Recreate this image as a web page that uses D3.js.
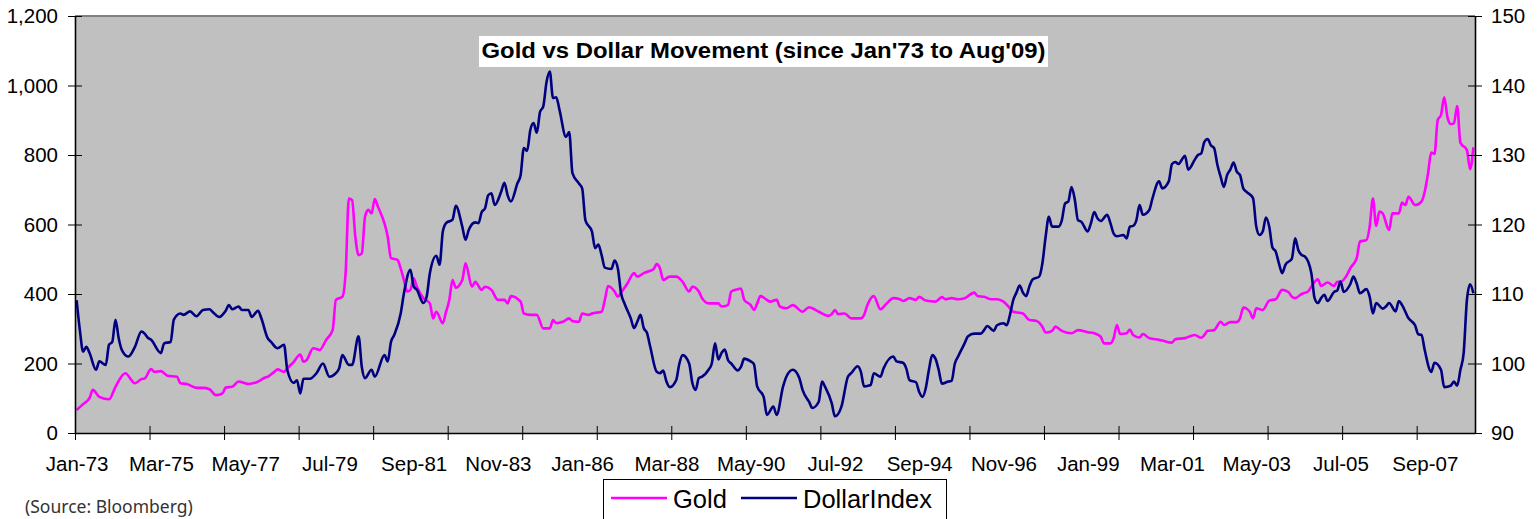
<!DOCTYPE html>
<html>
<head>
<meta charset="utf-8">
<script src="https://cdn.jsdelivr.net/npm/d3@7"></script>
<style>
  body { margin: 0; background: #fff; }
  svg { display: block; }
  .axis text { font-family: "Liberation Sans", Arial, sans-serif; font-size: 20.5px; fill: #000; }
  .axis path, .axis line { stroke: #000; }
</style>
</head>
<body>
<div id="chart"></div>
<script>
// Monthly series since Jan-73, stored as [monthIndex, value]
var gold = [[0,66],[2,83],[4,101],[5,124],[7,104],[10,97],[12,133],[15,172],[18,143],[20,155],[21,157],[23,184],[24,176],[26,178],[28,165],[31,162],[32,143],[34,141],[37,130],[39,130],[41,126],[43,109],[45,114],[46,131],[48,133],[50,148],[53,141],[56,148],[58,159],[59,162],[61,176],[62,183],[64,176],[65,186],[67,205],[69,226],[70,205],[71,210],[73,244],[75,239],[77,268],[79,296],[80,383],[82,392],[83,460],[84,675],[85,670],[86,565],[87,512],[88,517],[89,623],[90,642],[91,632],[92,673],[93,651],[95,603],[96,565],[97,503],[99,498],[100,474],[101,440],[102,407],[103,412],[104,445],[105,421],[107,388],[109,373],[110,330],[111,349],[113,316],[114,349],[115,383],[116,440],[117,418],[119,440],[120,488],[122,421],[123,435],[125,412],[126,421],[128,412],[130,383],[132,383],[133,373],[134,394],[137,378],[138,344],[140,340],[142,340],[144,301],[146,301],[147,325],[148,316],[150,320],[152,330],[153,322],[155,320],[156,344],[158,340],[159,344],[162,349],[163,383],[164,423],[166,407],[167,392],[168,404],[170,431],[172,460],[173,450],[175,460],[177,467],[178,471],[179,486],[180,474],[181,440],[183,450],[185,450],[187,435],[189,407],[190,421],[192,407],[193,388],[195,373],[198,373],[199,364],[201,368],[202,407],[204,414],[205,416],[206,383],[208,368],[209,354],[210,373],[211,394],[213,383],[214,378],[216,383],[217,364],[219,359],[221,368],[224,349],[226,362],[227,359],[229,349],[232,337],[233,342],[234,354],[235,342],[237,344],[239,330],[242,330],[243,340],[244,368],[246,394],[248,356],[250,373],[252,388],[254,385],[255,380],[257,388],[259,383],[260,392],[262,381],[265,378],[267,391],[268,385],[270,388],[272,385],[274,388],[277,404],[278,394],[280,392],[282,385],[284,385],[286,378],[288,359],[289,349],[291,346],[292,344],[294,325],[296,323],[298,306],[299,289],[301,294],[302,306],[304,294],[307,287],[309,296],[312,290],[314,287],[316,277],[317,258],[319,258],[320,273],[321,311],[322,285],[324,287],[325,298],[326,282],[328,275],[329,285],[331,273],[334,268],[335,266],[338,260],[339,270],[342,273],[345,282],[347,274],[348,282],[349,294],[351,296],[353,320],[354,311],[356,319],[358,319],[359,330],[360,361],[362,349],[363,330],[364,359],[366,354],[368,381],[370,385],[372,412],[374,405],[375,392],[376,388],[378,400],[380,407],[381,421],[383,442],[384,423],[386,433],[388,423],[389,435],[390,435],[392,455],[393,474],[395,503],[396,551],[398,555],[399,594],[400,675],[401,596],[402,637],[403,632],[405,584],[406,632],[408,632],[409,663],[410,656],[411,680],[413,656],[415,666],[416,695],[417,747],[418,807],[419,803],[420,901],[421,915],[422,966],[423,909],[424,889],[425,891],[426,941],[427,835],[429,814],[430,759],[431,822]];

var dollarIndex = [[0,109.1],[1,104.8],[2,101.7],[3,102.4],[4,101.5],[6,99.1],[7,100.3],[9,99.8],[10,102.7],[11,103.1],[12,106.3],[13,103.6],[14,101.9],[16,101.0],[18,102.4],[20,104.6],[21,104.3],[22,103.7],[23,103.4],[26,101.5],[27,102.9],[29,103.1],[30,106.3],[32,107.2],[33,107.0],[35,107.5],[37,106.8],[39,107.7],[41,107.8],[42,107.4],[44,106.7],[46,107.6],[47,108.4],[48,107.8],[50,108.2],[51,107.7],[53,107.7],[54,106.7],[56,107.6],[57,106.5],[59,103.6],[60,103.1],[62,102.2],[64,102.7],[65,99.1],[67,97.2],[68,97.6],[69,95.7],[70,97.8],[72,97.8],[74,98.6],[76,100.0],[78,98.1],[80,98.6],[81,99.3],[82,101.2],[84,99.8],[85,99.8],[87,103.9],[88,99.5],[89,97.9],[91,99.1],[92,98.1],[95,101.2],[96,100.3],[97,103.1],[98,104.1],[100,107.2],[101,110.1],[103,113.5],[104,111.1],[105,110.6],[107,108.7],[108,109.6],[109,113.0],[111,115.5],[112,114.2],[113,119.0],[114,120.2],[116,120.7],[117,122.7],[119,119.7],[120,117.8],[121,119.2],[123,120.3],[124,120.2],[125,121.8],[126,122.3],[127,124.2],[128,124.5],[129,122.8],[131,124.7],[132,126.0],[133,124.2],[134,123.3],[136,125.9],[137,127.1],[138,131.0],[139,130.6],[140,133.6],[141,134.6],[142,133.2],[143,136.2],[144,137.0],[145,140.5],[146,142.0],[147,138.2],[148,138.3],[149,136.5],[151,132.6],[152,133.3],[153,127.4],[155,125.9],[156,125.2],[157,120.6],[159,119.0],[160,116.6],[161,117.1],[162,115.6],[163,113.8],[165,113.6],[166,114.8],[167,113.7],[168,110.1],[169,108.7],[171,106.5],[172,105.1],[173,106.0],[174,107.0],[175,105.1],[176,104.4],[177,102.4],[179,98.8],[180,98.6],[181,99.0],[182,97.4],[183,96.6],[185,97.6],[186,100.0],[187,101.2],[189,100.0],[190,97.2],[191,96.2],[192,97.9],[193,98.1],[195,99.1],[196,100.0],[197,102.9],[198,100.6],[199,101.5],[200,102.0],[201,100.5],[202,100.0],[204,99.0],[205,99.5],[206,100.7],[208,100.3],[209,99.9],[210,96.7],[212,95.2],[213,92.6],[215,93.8],[216,92.6],[218,96.7],[219,98.1],[221,99.1],[223,97.9],[224,96.2],[226,94.5],[227,93.6],[229,94.5],[230,97.4],[231,96.6],[233,94.3],[234,92.4],[236,93.8],[238,98.1],[239,98.6],[241,99.6],[242,98.8],[243,96.7],[245,96.9],[246,98.6],[248,98.1],[249,99.3],[252,101.0],[253,100.3],[255,100.1],[256,99.3],[257,97.6],[259,97.3],[260,95.9],[261,95.2],[262,96.4],[263,99.1],[264,101.2],[265,100.7],[266,99.1],[267,97.1],[269,97.4],[270,97.5],[271,100.0],[272,101.0],[274,102.9],[275,103.9],[277,104.3],[279,104.3],[280,104.8],[281,105.4],[283,104.7],[284,105.5],[286,105.8],[287,105.5],[288,107.0],[289,109.1],[290,110.2],[291,111.2],[292,110.2],[293,109.7],[294,111.1],[295,112.1],[297,112.5],[298,114.4],[299,118.2],[300,121.1],[301,119.7],[303,119.7],[304,120.6],[305,123.0],[306,123.3],[307,125.4],[308,123.6],[309,120.6],[310,120.4],[312,119.0],[313,120.2],[314,121.8],[315,120.9],[316,120.5],[318,121.4],[319,120.2],[320,118.7],[321,118.3],[323,118.5],[324,118.0],[325,119.7],[326,119.8],[327,120.6],[328,122.8],[329,121.4],[331,122.1],[332,123.8],[334,126.2],[335,125.2],[337,126.2],[338,128.7],[339,129.0],[340,128.7],[341,129.3],[342,129.9],[343,127.9],[345,129.3],[346,130.0],[347,130.2],[348,131.9],[349,132.3],[350,131.4],[351,131.0],[352,128.6],[353,126.9],[354,125.4],[355,127.1],[356,127.9],[357,128.9],[358,127.6],[359,127.1],[360,125.2],[361,124.7],[363,123.8],[364,119.7],[365,118.5],[366,119.0],[367,121.0],[368,119.7],[369,116.7],[370,116.1],[371,114.4],[372,113.0],[373,114.2],[375,115.1],[376,118.0],[377,116.3],[378,115.6],[379,115.4],[381,113.0],[382,109.4],[383,108.7],[384,109.4],[385,109.9],[386,109.0],[388,110.3],[389,110.5],[390,111.8],[391,110.3],[393,111.4],[394,112.5],[395,111.5],[396,110.1],[398,110.7],[399,109.6],[400,107.2],[401,108.7],[403,107.9],[404,108.2],[405,108.7],[407,107.5],[408,109.0],[409,108.4],[411,106.5],[413,105.5],[414,104.2],[415,104.1],[416,101.9],[418,98.8],[419,100.1],[421,99.1],[422,96.6],[424,96.8],[425,97.4],[426,96.8],[427,99.1],[428,101.5],[429,109.1],[430,111.4],[431,110.1]];

// category axis labels (one every 26 months) and tick marks (every 23 months)
var xLabels = ["Jan-73","Mar-75","May-77","Jul-79","Sep-81","Nov-83","Jan-86","Mar-88","May-90","Jul-92","Sep-94","Nov-96","Jan-99","Mar-01","May-03","Jul-05","Sep-07"];
var nMonths = 432;
var labelEvery = 26;
var tickEvery = 23;
var leftTicks = [0, 200, 400, 600, 800, 1000, 1200];
var rightTicks = [90, 100, 110, 120, 130, 140, 150];

var svgWidth = 1540;
var svgHeight = 519;
var plot = { left: 75, right: 1475, top: 16, bottom: 433 };

var svg = d3.select("#chart")
  .append("svg")
  .attr("width", svgWidth)
  .attr("height", svgHeight);

var xScale = d3.scaleLinear().domain([0, nMonths]).range([plot.left, plot.right]);
var yLeft = d3.scaleLinear().domain([0, 1200]).range([plot.bottom, plot.top]);
var yRight = d3.scaleLinear().domain([90, 150]).range([plot.bottom, plot.top]);

// plot background
svg.append("rect")
  .attr("x", plot.left)
  .attr("y", plot.top)
  .attr("width", plot.right - plot.left)
  .attr("height", plot.bottom - plot.top)
  .attr("fill", "#c0c0c0");

svg.append("line")
  .attr("x1", plot.left).attr("x2", plot.right)
  .attr("y1", plot.top).attr("y2", plot.top)
  .attr("stroke", "#808080")
  .attr("stroke-width", 2);

// lines
var goldLine = d3.line()
  .x(d => xScale(d[0] + 0.5))
  .y(d => yLeft(d[1]))
  .curve(d3.curveMonotoneX);

var dollarLine = d3.line()
  .x(d => xScale(d[0] + 0.5))
  .y(d => yRight(d[1]))
  .curve(d3.curveMonotoneX);

svg.append("path")
  .datum(gold)
  .attr("d", goldLine)
  .attr("fill", "none")
  .attr("stroke", "#ff00ff")
  .attr("stroke-width", 2.6)
  .attr("stroke-linejoin", "round");

svg.append("path")
  .datum(dollarIndex)
  .attr("d", dollarLine)
  .attr("fill", "none")
  .attr("stroke", "#000080")
  .attr("stroke-width", 2.6)
  .attr("stroke-linejoin", "round");

// axes (Excel style crossing tick marks)
var leftAxis = svg.append("g")
  .attr("class", "axis")
  .attr("transform", `translate(${plot.left}, 0)`)
  .call(d3.axisLeft(yLeft).tickValues(leftTicks).tickFormat(d3.format(",")).tickSizeInner(7).tickSizeOuter(0).tickPadding(10));
leftAxis.selectAll(".tick line").attr("x1", 7).attr("x2", -7);

var rightAxis = svg.append("g")
  .attr("class", "axis")
  .attr("transform", `translate(${plot.right}, 0)`)
  .call(d3.axisRight(yRight).tickValues(rightTicks).tickSizeInner(7).tickSizeOuter(0).tickPadding(9));
rightAxis.selectAll(".tick line").attr("x1", -7).attr("x2", 7);

var bottomTicks = svg.append("g")
  .attr("class", "axis")
  .attr("transform", `translate(0, ${plot.bottom})`)
  .call(d3.axisBottom(xScale).tickValues(d3.range(0, nMonths, tickEvery)).tickFormat("").tickSizeInner(7).tickSizeOuter(0));
bottomTicks.selectAll(".tick line").attr("y1", -7).attr("y2", 7);

svg.append("g")
  .attr("class", "axis")
  .attr("transform", `translate(0, ${plot.bottom})`)
  .call(d3.axisBottom(xScale)
    .tickValues(xLabels.map((d, i) => i * labelEvery + 0.5))
    .tickFormat((d, i) => xLabels[i])
    .tickSize(0)
    .tickPadding(23))
  .select(".domain").remove();

svg.selectAll(".axis .domain").attr("stroke-width", 1.6);

// title
svg.append("rect")
  .attr("x", 479).attr("y", 36)
  .attr("width", 569).attr("height", 31)
  .attr("fill", "#fff");

svg.append("text")
  .attr("x", 763.5)
  .attr("y", 58)
  .attr("text-anchor", "middle")
  .attr("textLength", 564)
  .attr("lengthAdjust", "spacingAndGlyphs")
  .style("font-family", "'Liberation Sans', Arial, sans-serif")
  .style("font-weight", "bold")
  .style("font-size", "22.5px")
  .text("Gold vs Dollar Movement (since Jan'73 to Aug'09)");

// legend
var legend = svg.append("g");
legend.append("rect")
  .attr("x", 603.5).attr("y", 479.5)
  .attr("width", 343).attr("height", 50)
  .attr("fill", "#fff")
  .attr("stroke", "#000")
  .attr("stroke-width", 1);

var legendItems = [
  { name: "Gold", color: "#ff00ff", x: 611 },
  { name: "DollarIndex", color: "#000080", x: 741 }
];
legendItems.forEach(function (item) {
  legend.append("line")
    .attr("x1", item.x).attr("x2", item.x + 56)
    .attr("y1", 498).attr("y2", 498)
    .attr("stroke", item.color)
    .attr("stroke-width", 2.6);
  legend.append("text")
    .attr("x", item.x + 62)
    .attr("y", 508)
    .style("font-family", "'Liberation Sans', Arial, sans-serif")
    .style("font-size", "25.5px")
    .text(item.name);
});

// source note
svg.append("text")
  .attr("x", 25)
  .attr("y", 513)
  .style("font-family", "'Noto Sans', sans-serif")
  .style("font-size", "17.5px")
  .attr("fill", "#333")
  .text("(Source: Bloomberg)");
</script>
</body>
</html>
